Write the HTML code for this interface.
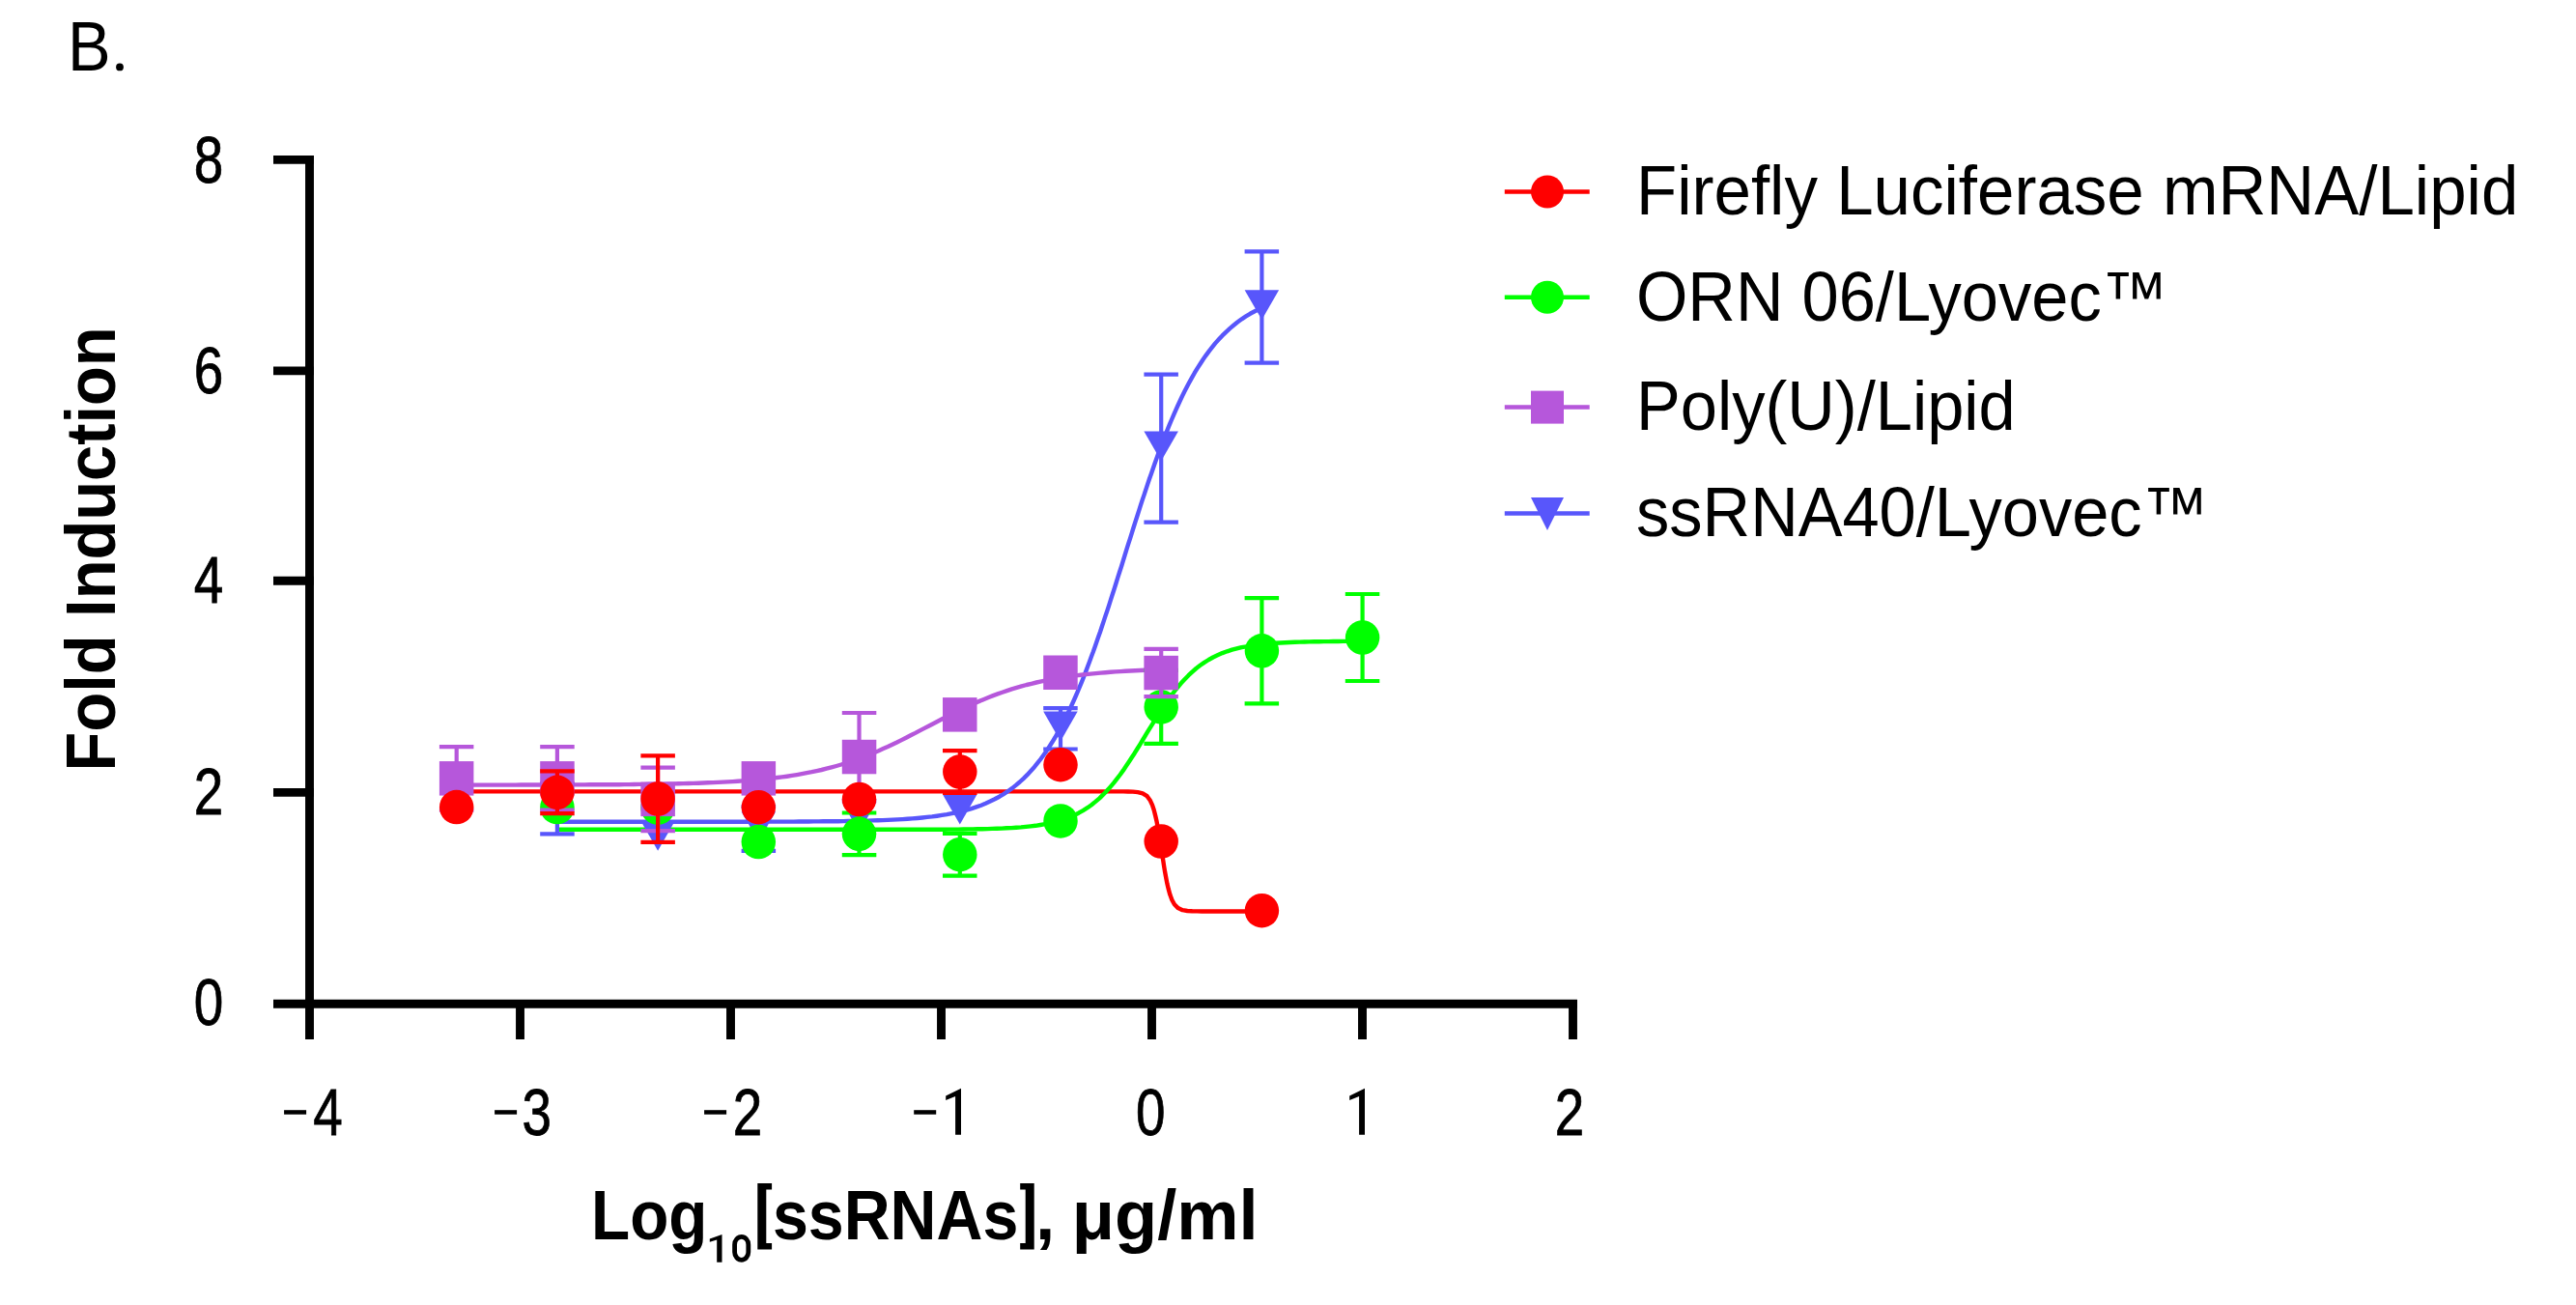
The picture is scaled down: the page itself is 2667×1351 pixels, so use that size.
<!DOCTYPE html>
<html><head><meta charset="utf-8"><style>
html,body{margin:0;padding:0;background:#fff;width:2667px;height:1351px;overflow:hidden}
svg{display:block}
text{font-family:"Liberation Sans",sans-serif;fill:#000}
.tk{font-size:70px;stroke:#000;stroke-width:0.8px}
.lg{font-size:73px}
.bd{font-size:73px;font-weight:bold}
</style></head><body>
<svg width="2667" height="1351" viewBox="0 0 2667 1351">
<rect width="2667" height="1351" fill="#fff"/>
<text transform="translate(70,72.8) scale(0.93,1)" style="font-size:72px">B</text><circle cx="124" cy="69.4" r="3.9" fill="#000"/>
<line x1="320.5" y1="161" x2="320.5" y2="1076" stroke="#000" stroke-width="8.9"/>
<line x1="283" y1="1039.3" x2="1632.9" y2="1039.3" stroke="#000" stroke-width="8.9"/>
<line x1="283" y1="165.4" x2="324.9" y2="165.4" stroke="#000" stroke-width="8.9"/>
<line x1="283" y1="383.9" x2="324.9" y2="383.9" stroke="#000" stroke-width="8.9"/>
<line x1="283" y1="601.3" x2="324.9" y2="601.3" stroke="#000" stroke-width="8.9"/>
<line x1="283" y1="820.4" x2="324.9" y2="820.4" stroke="#000" stroke-width="8.9"/>
<line x1="538.5" y1="1035" x2="538.5" y2="1076" stroke="#000" stroke-width="8.9"/>
<line x1="756.5" y1="1035" x2="756.5" y2="1076" stroke="#000" stroke-width="8.9"/>
<line x1="974.5" y1="1035" x2="974.5" y2="1076" stroke="#000" stroke-width="8.9"/>
<line x1="1192.5" y1="1035" x2="1192.5" y2="1076" stroke="#000" stroke-width="8.9"/>
<line x1="1410.5" y1="1035" x2="1410.5" y2="1076" stroke="#000" stroke-width="8.9"/>
<line x1="1628.5" y1="1035" x2="1628.5" y2="1076" stroke="#000" stroke-width="8.9"/>
<g class="tk" style="font-size:68.5px">
<text transform="translate(216,1060.5) scale(0.8,1)" text-anchor="middle">0</text>
<text transform="translate(216,842.5) scale(0.8,1)" text-anchor="middle">2</text>
<text transform="translate(216,623.8) scale(0.8,1)" text-anchor="middle">4</text>
<text transform="translate(216,406.5) scale(0.8,1)" text-anchor="middle">6</text>
<text transform="translate(216,188.5) scale(0.8,1)" text-anchor="middle">8</text>
<rect x="294.1" y="1149.2" width="23" height="4.5" fill="#000" stroke="none"/>
<text transform="translate(339.5,1175) scale(0.8,1)" text-anchor="middle">4</text>
<rect x="512.1" y="1149.2" width="23" height="4.5" fill="#000" stroke="none"/>
<text transform="translate(555.8,1175) scale(0.8,1)" text-anchor="middle">3</text>
<rect x="729.1" y="1149.2" width="23" height="4.5" fill="#000" stroke="none"/>
<text transform="translate(773.9,1175) scale(0.8,1)" text-anchor="middle">2</text>
<rect x="946.2" y="1149.2" width="23" height="4.5" fill="#000" stroke="none"/>
<path transform="translate(995,1174.8)" d="M0,-48 L0,0 L-5.9,0 L-5.9,-39.9 L-15.8,-35.9 L-15.8,-40.2 Z" fill="#000" stroke="none"/>
<text transform="translate(1191.3,1175) scale(0.8,1)" text-anchor="middle">0</text>
<path transform="translate(1413,1174.8)" d="M0,-48 L0,0 L-5.9,0 L-5.9,-39.9 L-15.8,-35.9 L-15.8,-40.2 Z" fill="#000" stroke="none"/>
<text transform="translate(1625,1175) scale(0.8,1)" text-anchor="middle">2</text>
</g>
<path d="M472.7,819.4 L477.7,819.4 L482.7,819.4 L487.7,819.4 L492.7,819.4 L497.7,819.4 L502.7,819.4 L507.7,819.4 L512.7,819.4 L517.7,819.4 L522.7,819.4 L527.7,819.4 L532.7,819.4 L537.7,819.4 L542.7,819.4 L547.7,819.4 L552.7,819.4 L557.7,819.4 L562.7,819.4 L567.7,819.4 L572.7,819.4 L577.7,819.4 L582.7,819.4 L587.7,819.4 L592.7,819.4 L597.8,819.4 L602.8,819.4 L607.8,819.4 L612.8,819.4 L617.8,819.4 L622.8,819.4 L627.8,819.4 L632.8,819.4 L637.8,819.4 L642.8,819.4 L647.8,819.4 L652.8,819.4 L657.8,819.4 L662.8,819.4 L667.8,819.4 L672.8,819.4 L677.8,819.4 L682.8,819.4 L687.8,819.4 L692.8,819.4 L697.8,819.4 L702.8,819.4 L707.8,819.4 L712.8,819.4 L717.8,819.4 L722.8,819.4 L727.8,819.4 L732.8,819.4 L737.8,819.4 L742.8,819.4 L747.8,819.4 L752.8,819.4 L757.8,819.4 L762.8,819.4 L767.8,819.4 L772.8,819.4 L777.8,819.4 L782.8,819.4 L787.8,819.4 L792.8,819.4 L797.8,819.4 L802.8,819.4 L807.8,819.4 L812.8,819.4 L817.8,819.4 L822.8,819.4 L827.8,819.4 L832.8,819.4 L837.9,819.4 L842.9,819.4 L847.9,819.4 L852.9,819.4 L857.9,819.4 L862.9,819.4 L867.9,819.4 L872.9,819.4 L877.9,819.4 L882.9,819.4 L887.9,819.4 L892.9,819.4 L897.9,819.4 L902.9,819.4 L907.9,819.4 L912.9,819.4 L917.9,819.4 L922.9,819.4 L927.9,819.4 L932.9,819.4 L937.9,819.4 L942.9,819.4 L947.9,819.4 L952.9,819.4 L957.9,819.4 L962.9,819.4 L967.9,819.4 L972.9,819.4 L977.9,819.4 L982.9,819.4 L987.9,819.4 L992.9,819.4 L997.9,819.4 L1002.9,819.4 L1007.9,819.4 L1012.9,819.4 L1017.9,819.4 L1022.9,819.4 L1027.9,819.4 L1032.9,819.4 L1037.9,819.4 L1042.9,819.4 L1047.9,819.4 L1052.9,819.4 L1057.9,819.4 L1062.9,819.4 L1067.9,819.4 L1072.9,819.4 L1078.0,819.4 L1083.0,819.4 L1088.0,819.4 L1093.0,819.4 L1098.0,819.4 L1103.0,819.4 L1108.0,819.4 L1113.0,819.4 L1118.0,819.4 L1123.0,819.4 L1128.0,819.4 L1133.0,819.4 L1138.0,819.4 L1143.0,819.4 L1148.0,819.4 L1153.0,819.4 L1158.0,819.4 L1163.0,819.4 L1168.0,819.5 L1173.0,819.6 L1178.0,820.1 L1183.0,821.3 L1187.6,824.2 L1190.9,828.8 L1193.0,833.4 L1194.7,838.5 L1196.3,844.9 L1197.6,850.6 L1198.8,857.2 L1200.1,864.5 L1200.9,869.6 L1201.8,875.0 L1202.6,880.4 L1203.4,885.9 L1204.3,891.2 L1205.1,896.5 L1205.9,901.5 L1207.2,908.5 L1208.4,914.8 L1209.7,920.2 L1211.3,926.1 L1213.4,931.7 L1215.9,936.3 L1219.7,940.1 L1224.3,942.2 L1229.3,943.0 L1234.3,943.3 L1239.3,943.4 L1244.3,943.5 L1249.3,943.5 L1254.3,943.5 L1259.3,943.5 L1264.3,943.5 L1269.3,943.5 L1274.3,943.5 L1279.3,943.5 L1284.3,943.5 L1289.3,943.5 L1294.3,943.5 L1299.3,943.5 L1304.3,943.5 L1306.4,943.5" fill="none" stroke="#ff0000" stroke-width="4.4" stroke-linejoin="round"/>
<path d="M576.9,850.8 L582.0,850.8 L587.1,850.8 L592.2,850.8 L597.3,850.8 L602.4,850.8 L607.5,850.8 L612.7,850.8 L617.8,850.7 L622.9,850.7 L628.0,850.7 L633.1,850.7 L638.2,850.7 L643.3,850.7 L648.4,850.7 L653.5,850.7 L658.6,850.7 L663.7,850.7 L668.8,850.7 L673.9,850.7 L679.0,850.7 L684.1,850.7 L689.2,850.7 L694.4,850.7 L699.5,850.7 L704.6,850.7 L709.7,850.7 L714.8,850.7 L719.9,850.7 L725.0,850.7 L730.1,850.7 L735.2,850.7 L740.3,850.7 L745.4,850.7 L750.5,850.7 L755.6,850.7 L760.7,850.7 L765.8,850.7 L770.9,850.7 L776.1,850.7 L781.2,850.7 L786.3,850.7 L791.4,850.7 L796.5,850.6 L801.6,850.6 L806.7,850.6 L811.8,850.6 L816.9,850.6 L822.0,850.6 L827.1,850.5 L832.2,850.5 L837.3,850.5 L842.4,850.4 L847.5,850.4 L852.6,850.3 L857.8,850.3 L862.9,850.2 L868.0,850.2 L873.1,850.1 L878.2,850.0 L883.3,849.9 L888.4,849.8 L893.5,849.7 L898.6,849.6 L903.7,849.4 L908.8,849.3 L913.9,849.1 L919.0,848.9 L924.1,848.6 L929.2,848.4 L934.4,848.1 L939.5,847.7 L944.6,847.4 L949.7,847.0 L954.8,846.5 L959.9,845.9 L965.0,845.4 L970.1,844.7 L975.2,843.9 L980.3,843.1 L985.4,842.1 L990.5,841.1 L995.6,839.9 L1000.7,838.6 L1005.8,837.1 L1010.9,835.4 L1015.7,833.7 L1020.4,831.8 L1025.2,829.6 L1029.9,827.3 L1034.7,824.7 L1039.0,822.1 L1043.4,819.2 L1047.8,816.1 L1051.8,812.9 L1055.8,809.5 L1059.8,805.8 L1063.5,802.2 L1067.1,798.3 L1070.8,794.2 L1074.0,790.2 L1077.3,786.0 L1080.6,781.5 L1083.5,777.4 L1086.4,773.0 L1089.4,768.3 L1092.3,763.5 L1094.8,759.1 L1097.4,754.5 L1099.9,749.7 L1102.5,744.7 L1105.0,739.6 L1107.2,735.0 L1109.4,730.3 L1111.6,725.5 L1113.8,720.5 L1116.0,715.4 L1118.2,710.1 L1120.4,704.8 L1122.6,699.3 L1124.4,694.6 L1126.2,689.8 L1128.0,685.0 L1129.8,680.0 L1131.7,675.0 L1133.5,669.9 L1135.3,664.8 L1137.1,659.5 L1139.0,654.2 L1140.8,648.8 L1142.6,643.4 L1144.4,637.9 L1146.3,632.4 L1148.1,626.8 L1149.9,621.1 L1151.7,615.5 L1153.6,609.8 L1155.4,604.0 L1157.2,598.2 L1159.0,592.5 L1160.9,586.7 L1162.7,580.8 L1164.5,575.0 L1166.3,569.2 L1168.1,563.4 L1170.0,557.6 L1171.8,551.8 L1173.6,546.0 L1175.4,540.3 L1177.3,534.5 L1179.1,528.9 L1180.9,523.2 L1182.7,517.6 L1184.6,512.1 L1186.4,506.6 L1188.2,501.1 L1190.0,495.8 L1191.9,490.5 L1193.7,485.2 L1195.5,480.0 L1197.3,474.9 L1199.1,469.9 L1201.0,465.0 L1202.8,460.1 L1204.6,455.3 L1206.4,450.6 L1208.6,445.1 L1210.8,439.7 L1213.0,434.5 L1215.2,429.4 L1217.4,424.4 L1219.6,419.5 L1221.8,414.8 L1223.9,410.3 L1226.5,405.1 L1229.1,400.1 L1231.6,395.3 L1234.2,390.7 L1236.7,386.2 L1239.6,381.4 L1242.6,376.8 L1245.5,372.3 L1248.4,368.1 L1251.7,363.6 L1255.0,359.4 L1258.2,355.4 L1261.9,351.3 L1265.5,347.4 L1269.2,343.8 L1273.2,340.1 L1277.2,336.7 L1281.2,333.5 L1285.6,330.3 L1290.0,327.4 L1294.3,324.8 L1299.1,322.2 L1303.8,319.9 L1306.4,318.7" fill="none" stroke="#5856fb" stroke-width="4.4" stroke-linejoin="round"/>
<path d="M576.9,858.8 L581.9,858.8 L586.9,858.8 L591.9,858.8 L596.9,858.8 L601.9,858.8 L606.9,858.8 L611.9,858.8 L616.9,858.8 L621.9,858.8 L626.9,858.8 L631.9,858.8 L636.9,858.8 L641.9,858.8 L646.9,858.8 L651.9,858.8 L656.9,858.8 L661.9,858.8 L666.9,858.8 L671.9,858.8 L677.0,858.8 L682.0,858.8 L687.0,858.8 L692.0,858.8 L697.0,858.8 L702.0,858.8 L707.0,858.8 L712.0,858.8 L717.0,858.8 L722.0,858.8 L727.0,858.8 L732.0,858.8 L737.0,858.8 L742.0,858.8 L747.0,858.8 L752.0,858.8 L757.0,858.8 L762.0,858.8 L767.0,858.8 L772.0,858.8 L777.0,858.8 L782.0,858.8 L787.0,858.8 L792.0,858.8 L797.0,858.8 L802.0,858.8 L807.0,858.8 L812.0,858.8 L817.0,858.8 L822.0,858.8 L827.0,858.8 L832.0,858.8 L837.0,858.8 L842.0,858.8 L847.0,858.8 L852.0,858.8 L857.0,858.8 L862.0,858.8 L867.0,858.8 L872.0,858.8 L877.0,858.8 L882.0,858.8 L887.0,858.8 L892.0,858.8 L897.0,858.8 L902.0,858.8 L907.0,858.8 L912.0,858.8 L917.1,858.8 L922.1,858.8 L927.1,858.8 L932.1,858.8 L937.1,858.8 L942.1,858.8 L947.1,858.8 L952.1,858.8 L957.1,858.8 L962.1,858.7 L967.1,858.7 L972.1,858.7 L977.1,858.7 L982.1,858.6 L987.1,858.6 L992.1,858.6 L997.1,858.5 L1002.1,858.4 L1007.1,858.4 L1012.1,858.3 L1017.1,858.2 L1022.1,858.1 L1027.1,857.9 L1032.1,857.8 L1037.1,857.6 L1042.1,857.3 L1047.1,857.1 L1052.1,856.7 L1057.1,856.4 L1062.1,855.9 L1067.1,855.4 L1072.1,854.8 L1077.1,854.0 L1082.1,853.2 L1087.1,852.2 L1092.1,851.0 L1097.1,849.6 L1102.1,848.0 L1107.1,846.1 L1112.1,844.0 L1116.7,841.7 L1121.3,839.1 L1125.9,836.2 L1130.1,833.2 L1134.2,829.9 L1138.4,826.3 L1142.1,822.7 L1145.9,818.8 L1149.6,814.6 L1153.0,810.6 L1156.3,806.4 L1159.7,802.0 L1163.0,797.4 L1165.9,793.1 L1168.8,788.8 L1171.7,784.3 L1174.7,779.7 L1177.6,775.0 L1180.5,770.3 L1183.4,765.5 L1186.3,760.7 L1189.2,755.9 L1192.2,751.1 L1195.1,746.4 L1198.0,741.7 L1200.9,737.1 L1203.8,732.7 L1206.8,728.3 L1209.7,724.2 L1213.0,719.6 L1216.3,715.2 L1219.7,711.0 L1223.0,707.1 L1226.8,703.0 L1230.5,699.2 L1234.3,695.6 L1238.4,692.0 L1242.6,688.8 L1246.8,685.9 L1251.4,683.0 L1255.9,680.5 L1260.5,678.3 L1265.5,676.1 L1270.5,674.3 L1275.5,672.7 L1280.5,671.4 L1285.5,670.2 L1290.5,669.3 L1295.5,668.4 L1300.5,667.7 L1305.5,667.1 L1310.5,666.6 L1315.6,666.1 L1320.6,665.8 L1325.6,665.5 L1330.6,665.2 L1335.6,665.0 L1340.6,664.8 L1345.6,664.6 L1350.6,664.5 L1355.6,664.4 L1360.6,664.3 L1365.6,664.2 L1370.6,664.1 L1375.6,664.1 L1380.6,664.0 L1385.6,664.0 L1390.6,663.9 L1395.6,663.9 L1400.6,663.9 L1405.6,663.8 L1410.6,663.8" fill="none" stroke="#00ff00" stroke-width="4.4" stroke-linejoin="round"/>
<path d="M472.7,812.6 L477.8,812.6 L482.9,812.6 L488.0,812.6 L493.1,812.6 L498.2,812.6 L503.3,812.6 L508.4,812.6 L513.6,812.6 L518.7,812.6 L523.8,812.6 L528.9,812.6 L534.0,812.6 L539.1,812.5 L544.2,812.5 L549.3,812.5 L554.4,812.5 L559.5,812.5 L564.6,812.5 L569.7,812.5 L574.8,812.5 L579.9,812.5 L585.0,812.4 L590.1,812.4 L595.3,812.4 L600.4,812.4 L605.5,812.4 L610.6,812.3 L615.7,812.3 L620.8,812.3 L625.9,812.3 L631.0,812.2 L636.1,812.2 L641.2,812.2 L646.3,812.1 L651.4,812.1 L656.5,812.0 L661.6,811.9 L666.7,811.9 L671.8,811.8 L677.0,811.7 L682.1,811.7 L687.2,811.6 L692.3,811.5 L697.4,811.4 L702.5,811.3 L707.6,811.1 L712.7,811.0 L717.8,810.9 L722.9,810.7 L728.0,810.5 L733.1,810.3 L738.2,810.1 L743.3,809.9 L748.4,809.6 L753.5,809.4 L758.7,809.1 L763.8,808.8 L768.9,808.4 L774.0,808.0 L779.1,807.6 L784.2,807.2 L789.3,806.7 L794.4,806.2 L799.5,805.6 L804.6,805.0 L809.7,804.4 L814.8,803.7 L819.9,802.9 L825.0,802.1 L830.1,801.2 L835.2,800.2 L840.4,799.2 L845.5,798.1 L850.6,797.0 L855.7,795.7 L860.8,794.4 L865.9,793.0 L871.0,791.5 L876.1,789.9 L881.2,788.2 L885.9,786.6 L890.7,784.9 L895.4,783.1 L900.2,781.2 L904.9,779.2 L909.7,777.2 L914.4,775.1 L919.1,773.0 L923.9,770.7 L928.6,768.5 L933.4,766.1 L938.1,763.7 L942.8,761.3 L947.6,758.9 L952.3,756.4 L957.1,753.9 L961.8,751.5 L966.6,749.0 L971.3,746.5 L976.0,744.0 L980.8,741.6 L985.5,739.2 L990.3,736.8 L995.0,734.5 L999.7,732.3 L1004.5,730.1 L1009.2,727.9 L1014.0,725.9 L1018.7,723.9 L1023.4,722.0 L1028.2,720.1 L1032.9,718.4 L1037.7,716.7 L1042.4,715.1 L1047.5,713.4 L1052.6,711.9 L1057.7,710.4 L1062.8,709.0 L1067.9,707.8 L1073.1,706.5 L1078.2,705.4 L1083.3,704.3 L1088.4,703.4 L1093.5,702.4 L1098.6,701.6 L1103.7,700.8 L1108.8,700.0 L1113.9,699.4 L1119.0,698.7 L1124.1,698.1 L1129.2,697.6 L1134.3,697.1 L1139.4,696.6 L1144.5,696.2 L1149.6,695.8 L1154.8,695.4 L1159.9,695.1 L1165.0,694.8 L1170.1,694.5 L1175.2,694.3 L1180.3,694.0 L1185.4,693.8 L1190.5,693.6 L1195.6,693.4 L1200.7,693.2 L1202.2,693.2" fill="none" stroke="#b657db" stroke-width="4.4" stroke-linejoin="round"/>
<line x1="576.9" y1="811.0" x2="576.9" y2="863.4" stroke="#5856fb" stroke-width="4.2"/><line x1="559.2" y1="811.0" x2="594.7" y2="811.0" stroke="#5856fb" stroke-width="4.2"/><line x1="559.2" y1="863.4" x2="594.7" y2="863.4" stroke="#5856fb" stroke-width="4.2"/>

<line x1="785.3" y1="835.0" x2="785.3" y2="880.9" stroke="#5856fb" stroke-width="4.2"/><line x1="767.6" y1="835.0" x2="803.1" y2="835.0" stroke="#5856fb" stroke-width="4.2"/><line x1="767.6" y1="880.9" x2="803.1" y2="880.9" stroke="#5856fb" stroke-width="4.2"/>


<line x1="1098.0" y1="733.1" x2="1098.0" y2="775.5" stroke="#5856fb" stroke-width="4.2"/><line x1="1080.2" y1="733.1" x2="1115.7" y2="733.1" stroke="#5856fb" stroke-width="4.2"/><line x1="1080.2" y1="775.5" x2="1115.7" y2="775.5" stroke="#5856fb" stroke-width="4.2"/>
<line x1="1202.2" y1="387.7" x2="1202.2" y2="540.6" stroke="#5856fb" stroke-width="4.2"/><line x1="1184.4" y1="387.7" x2="1219.9" y2="387.7" stroke="#5856fb" stroke-width="4.2"/><line x1="1184.4" y1="540.6" x2="1219.9" y2="540.6" stroke="#5856fb" stroke-width="4.2"/>
<line x1="1306.4" y1="260.3" x2="1306.4" y2="375.7" stroke="#5856fb" stroke-width="4.2"/><line x1="1288.6" y1="260.3" x2="1324.1" y2="260.3" stroke="#5856fb" stroke-width="4.2"/><line x1="1288.6" y1="375.7" x2="1324.1" y2="375.7" stroke="#5856fb" stroke-width="4.2"/>
<path d="M559.2,819.5 L594.7,819.5 L576.9,850.3 Z" fill="#5856fb"/>
<path d="M663.4,849.8 L698.9,849.8 L681.1,880.7 Z" fill="#5856fb"/>
<path d="M767.6,840.2 L803.1,840.2 L785.3,871.1 Z" fill="#5856fb"/>
<path d="M871.8,830.4 L907.3,830.4 L889.5,861.3 Z" fill="#5856fb"/>
<path d="M976.0,822.5 L1011.5,822.5 L993.8,853.4 Z" fill="#5856fb"/>
<path d="M1080.2,736.5 L1115.7,736.5 L1098.0,767.4 Z" fill="#5856fb"/>
<path d="M1184.4,446.4 L1219.9,446.4 L1202.2,477.3 Z" fill="#5856fb"/>
<path d="M1288.6,300.2 L1324.1,300.2 L1306.4,331.1 Z" fill="#5856fb"/>



<line x1="889.5" y1="841.5" x2="889.5" y2="885.2" stroke="#00ff00" stroke-width="4.2"/><line x1="871.8" y1="841.5" x2="907.3" y2="841.5" stroke="#00ff00" stroke-width="4.2"/><line x1="871.8" y1="885.2" x2="907.3" y2="885.2" stroke="#00ff00" stroke-width="4.2"/>
<line x1="993.8" y1="862.9" x2="993.8" y2="906.6" stroke="#00ff00" stroke-width="4.2"/><line x1="976.0" y1="862.9" x2="1011.5" y2="862.9" stroke="#00ff00" stroke-width="4.2"/><line x1="976.0" y1="906.6" x2="1011.5" y2="906.6" stroke="#00ff00" stroke-width="4.2"/>

<line x1="1202.2" y1="693.9" x2="1202.2" y2="769.9" stroke="#00ff00" stroke-width="4.2"/><line x1="1184.4" y1="693.9" x2="1219.9" y2="693.9" stroke="#00ff00" stroke-width="4.2"/><line x1="1184.4" y1="769.9" x2="1219.9" y2="769.9" stroke="#00ff00" stroke-width="4.2"/>
<line x1="1306.4" y1="619.2" x2="1306.4" y2="728.4" stroke="#00ff00" stroke-width="4.2"/><line x1="1288.6" y1="619.2" x2="1324.1" y2="619.2" stroke="#00ff00" stroke-width="4.2"/><line x1="1288.6" y1="728.4" x2="1324.1" y2="728.4" stroke="#00ff00" stroke-width="4.2"/>
<line x1="1410.6" y1="615.0" x2="1410.6" y2="705.0" stroke="#00ff00" stroke-width="4.2"/><line x1="1392.8" y1="615.0" x2="1428.3" y2="615.0" stroke="#00ff00" stroke-width="4.2"/><line x1="1392.8" y1="705.0" x2="1428.3" y2="705.0" stroke="#00ff00" stroke-width="4.2"/>
<circle cx="576.9" cy="835.6" r="17.75" fill="#00ff00"/>
<circle cx="681.1" cy="836.1" r="17.75" fill="#00ff00"/>
<circle cx="785.3" cy="871.6" r="17.75" fill="#00ff00"/>
<circle cx="889.5" cy="863.3" r="17.75" fill="#00ff00"/>
<circle cx="993.8" cy="884.7" r="17.75" fill="#00ff00"/>
<circle cx="1098.0" cy="849.9" r="17.75" fill="#00ff00"/>
<circle cx="1202.2" cy="731.9" r="17.75" fill="#00ff00"/>
<circle cx="1306.4" cy="673.8" r="17.75" fill="#00ff00"/>
<circle cx="1410.6" cy="660.0" r="17.75" fill="#00ff00"/>
<line x1="472.7" y1="773.1" x2="472.7" y2="838.6" stroke="#b657db" stroke-width="4.2"/><line x1="454.9" y1="773.1" x2="490.4" y2="773.1" stroke="#b657db" stroke-width="4.2"/><line x1="454.9" y1="838.6" x2="490.4" y2="838.6" stroke="#b657db" stroke-width="4.2"/>
<line x1="576.9" y1="773.1" x2="576.9" y2="838.6" stroke="#b657db" stroke-width="4.2"/><line x1="559.2" y1="773.1" x2="594.7" y2="773.1" stroke="#b657db" stroke-width="4.2"/><line x1="559.2" y1="838.6" x2="594.7" y2="838.6" stroke="#b657db" stroke-width="4.2"/>
<line x1="681.1" y1="794.6" x2="681.1" y2="860.1" stroke="#b657db" stroke-width="4.2"/><line x1="663.4" y1="794.6" x2="698.9" y2="794.6" stroke="#b657db" stroke-width="4.2"/><line x1="663.4" y1="860.1" x2="698.9" y2="860.1" stroke="#b657db" stroke-width="4.2"/>

<line x1="889.5" y1="738.0" x2="889.5" y2="829.1" stroke="#b657db" stroke-width="4.2"/><line x1="871.8" y1="738.0" x2="907.3" y2="738.0" stroke="#b657db" stroke-width="4.2"/><line x1="871.8" y1="829.1" x2="907.3" y2="829.1" stroke="#b657db" stroke-width="4.2"/>


<line x1="1202.2" y1="671.8" x2="1202.2" y2="721.2" stroke="#b657db" stroke-width="4.2"/><line x1="1184.4" y1="671.8" x2="1219.9" y2="671.8" stroke="#b657db" stroke-width="4.2"/><line x1="1184.4" y1="721.2" x2="1219.9" y2="721.2" stroke="#b657db" stroke-width="4.2"/>
<rect x="454.9" y="788.1" width="35.5" height="35.5" fill="#b657db"/>
<rect x="559.2" y="788.1" width="35.5" height="35.5" fill="#b657db"/>
<rect x="663.4" y="809.6" width="35.5" height="35.5" fill="#b657db"/>
<rect x="767.6" y="788.1" width="35.5" height="35.5" fill="#b657db"/>
<rect x="871.8" y="765.8" width="35.5" height="35.5" fill="#b657db"/>
<rect x="976.0" y="722.1" width="35.5" height="35.5" fill="#b657db"/>
<rect x="1080.2" y="678.5" width="35.5" height="35.5" fill="#b657db"/>
<rect x="1184.4" y="678.8" width="35.5" height="35.5" fill="#b657db"/>

<line x1="576.9" y1="798.4" x2="576.9" y2="842.1" stroke="#ff0000" stroke-width="4.2"/><line x1="559.2" y1="798.4" x2="594.7" y2="798.4" stroke="#ff0000" stroke-width="4.2"/><line x1="559.2" y1="842.1" x2="594.7" y2="842.1" stroke="#ff0000" stroke-width="4.2"/>
<line x1="681.1" y1="782.3" x2="681.1" y2="871.8" stroke="#ff0000" stroke-width="4.2"/><line x1="663.4" y1="782.3" x2="698.9" y2="782.3" stroke="#ff0000" stroke-width="4.2"/><line x1="663.4" y1="871.8" x2="698.9" y2="871.8" stroke="#ff0000" stroke-width="4.2"/>


<line x1="993.8" y1="777.1" x2="993.8" y2="820.8" stroke="#ff0000" stroke-width="4.2"/><line x1="976.0" y1="777.1" x2="1011.5" y2="777.1" stroke="#ff0000" stroke-width="4.2"/><line x1="976.0" y1="820.8" x2="1011.5" y2="820.8" stroke="#ff0000" stroke-width="4.2"/>



<circle cx="472.7" cy="835.6" r="17.75" fill="#ff0000"/>
<circle cx="576.9" cy="820.3" r="17.75" fill="#ff0000"/>
<circle cx="681.1" cy="827.0" r="17.75" fill="#ff0000"/>
<circle cx="785.3" cy="835.7" r="17.75" fill="#ff0000"/>
<circle cx="889.5" cy="827.5" r="17.75" fill="#ff0000"/>
<circle cx="993.8" cy="799.0" r="17.75" fill="#ff0000"/>
<circle cx="1098.0" cy="791.7" r="17.75" fill="#ff0000"/>
<circle cx="1202.2" cy="871.0" r="17.75" fill="#ff0000"/>
<circle cx="1306.4" cy="942.7" r="17.75" fill="#ff0000"/>
<text class="bd" transform="translate(118.6,798.4) rotate(-90) scale(0.915,1)">Fold Induction</text>
<text class="bd" transform="translate(612,1283) scale(0.9,1)">Log</text>
<path d="M747.5,1277.9 L747.5,1306.7 L742.2,1306.7 L742.2,1283.6 L734.8,1285.8 L734.8,1282.4 Z" fill="#000"/><rect x="760.6" y="1280.4" width="14.2" height="23.9" rx="7.1" ry="8" fill="none" stroke="#000" stroke-width="4.8"/>
<path d="M784.3,1225 H799.1 V1231.6 H793.3 V1287 H799.1 V1293.6 H784.3 Z" fill="#000"/><text class="bd" transform="translate(799.9,1283) scale(0.909,1)">ssRNAs</text><path d="M1070.7,1225 H1056.2 V1231.6 H1061.7 V1287 H1056.2 V1293.6 H1070.7 Z" fill="#000"/><text class="bd" transform="translate(1072,1283)">,</text><text class="bd" transform="translate(1109.8,1283) scale(0.99,1)">μg/ml</text>
<line x1="1557.8" y1="198.5" x2="1645.7" y2="198.5" stroke="#ff0000" stroke-width="4.5"/>
<circle cx="1602.0" cy="198.5" r="17.00" fill="#ff0000"/>
<text transform="translate(1694,221.9) scale(0.946,1)" class="lg">Firefly Luciferase mRNA/Lipid</text>
<line x1="1557.8" y1="307.7" x2="1645.7" y2="307.7" stroke="#00ff00" stroke-width="4.5"/>
<circle cx="1602.0" cy="307.7" r="17.00" fill="#00ff00"/>
<text transform="translate(1694,331.6) scale(0.94,1)" class="lg">ORN 06/Lyovec™</text>
<line x1="1557.8" y1="421.6" x2="1645.7" y2="421.6" stroke="#b657db" stroke-width="4.5"/>
<rect x="1585.0" y="404.6" width="34.0" height="34.0" fill="#b657db"/>
<text transform="translate(1694,445.1) scale(0.94,1)" class="lg">Poly(U)/Lipid</text>
<line x1="1557.8" y1="531.6" x2="1645.7" y2="531.6" stroke="#5856fb" stroke-width="4.5"/>
<path d="M1585,515.0 L1619,515.0 L1602,548.9 Z" fill="#5856fb"/>
<text transform="translate(1694,555.3) scale(0.94,1)" class="lg">ssRNA40/Lyovec™</text>
</svg>
</body></html>
